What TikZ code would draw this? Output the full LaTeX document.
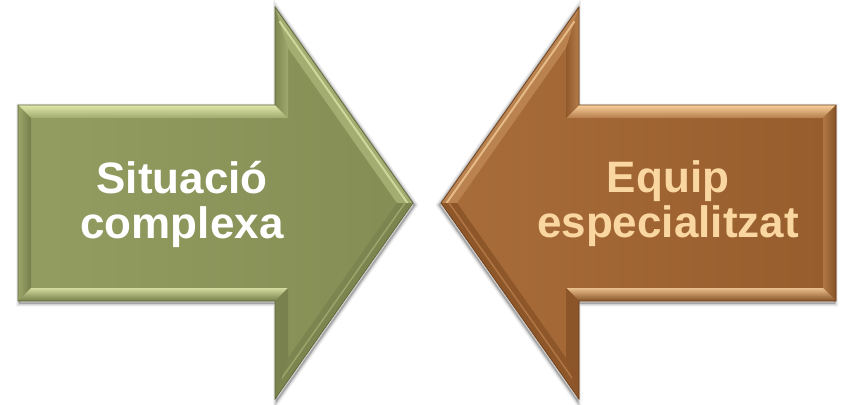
\documentclass[tikz,border=0pt]{standalone}
\usepackage{fontspec}
\setmainfont{Liberation Sans}
\definecolor{gbase}{RGB}{138,148,88}
\definecolor{glight}{RGB}{226,232,172}
\definecolor{gdark}{RGB}{96,104,58}
\definecolor{obase}{RGB}{158,97,46}
\definecolor{olight}{RGB}{248,208,156}
\definecolor{odark}{RGB}{110,64,28}
\definecolor{otext}{RGB}{250,214,160}
\newcommand\bevarrow[3]{%
  % soft shadow
  \foreach \w/\o in {7/0.05,5/0.07,3/0.10,1.5/0.18}{%
    \draw[line width=\w pt, black, opacity=\o, line join=miter, miter limit=4]
      (19.5,107) -- (276.5,107) -- (276.5,9) -- (414.5,205) -- (276.5,401)
      -- (276.5,303) -- (19.5,303) -- cycle;}
  % outer base
  \fill[#1] (18,105) -- (275,105) -- (275,7) -- (413,203) -- (275,399)
      -- (275,301) -- (18,301) -- cycle;
  % inner face
  \shade[left color=#1!90!#2, right color=#1!96!black]
      (31,118) -- (288,118) -- (288,48) -- (397,203) -- (288,358)
      -- (288,288) -- (31,288) -- cycle;
  % top body face
  \shade[top color=#2, bottom color=#1!75!#2]
      (18,105) -- (275,105) -- (288,118) -- (31,118) -- cycle;
  % left face
  \shade[left color=#1!80!#2, right color=#1!85!black]
      (18,105) -- (31,118) -- (31,288) -- (18,301) -- cycle;
  % bottom body face
  \shade[top color=#2!85!#1, bottom color=#1!85!black]
      (31,288) -- (288,288) -- (275,301) -- (18,301) -- cycle;
  % neck top face
  \shade[left color=#1!92!black, right color=#1!75!#2]
      (275,105) -- (275,7) -- (288,48) -- (288,118) -- cycle;
  % head upper face
  \fill[#1!70!#2] (275,7) -- (413,203) -- (397,203) -- (288,48) -- cycle;
  \draw[#2!80!#1, line width=2pt] ($(275,7)!0.35!(288,48)$) -- ($(413,203)!0.35!(397,203)$);
  % head lower face
  \fill[#1!90!black] (413,203) -- (275,399) -- (288,358) -- (397,203) -- cycle;
  \draw[#1!80!#2, line width=1.5pt] ($(275,399)!0.5!(288,358)$) -- ($(413,203)!0.5!(397,203)$);
  % neck bottom face
  \fill[#1!88!black] (288,288) -- (288,358) -- (275,399) -- (275,301) -- cycle;
  % outline
  \draw[#3, line width=0.7pt, line join=miter]
      (18,105) -- (275,105) -- (275,7) -- (413,203) -- (275,399)
      -- (275,301) -- (18,301) -- cycle;
}
\usetikzlibrary{calc}
\begin{document}
\begin{tikzpicture}[x=1pt,y=-1pt]
\useasboundingbox (0,0) rectangle (842,404);
\begin{scope}
  \bevarrow{gbase}{glight}{gdark}
\end{scope}
\begin{scope}[shift={(854,0)}, xscale=-1]
  \bevarrow{obase}{olight}{odark}
\end{scope}
\node[font=\bfseries\fontsize{44}{45}\selectfont, text=white, align=center, inner sep=0pt]
  (t1) at (182,204) {Situació\\complexa};
\node[font=\bfseries\fontsize{44}{45}\selectfont, text=otext, align=center, inner sep=0pt]
  (t2) at (668,204) {Equip\\especialitzat};
\end{tikzpicture}
\end{document}
